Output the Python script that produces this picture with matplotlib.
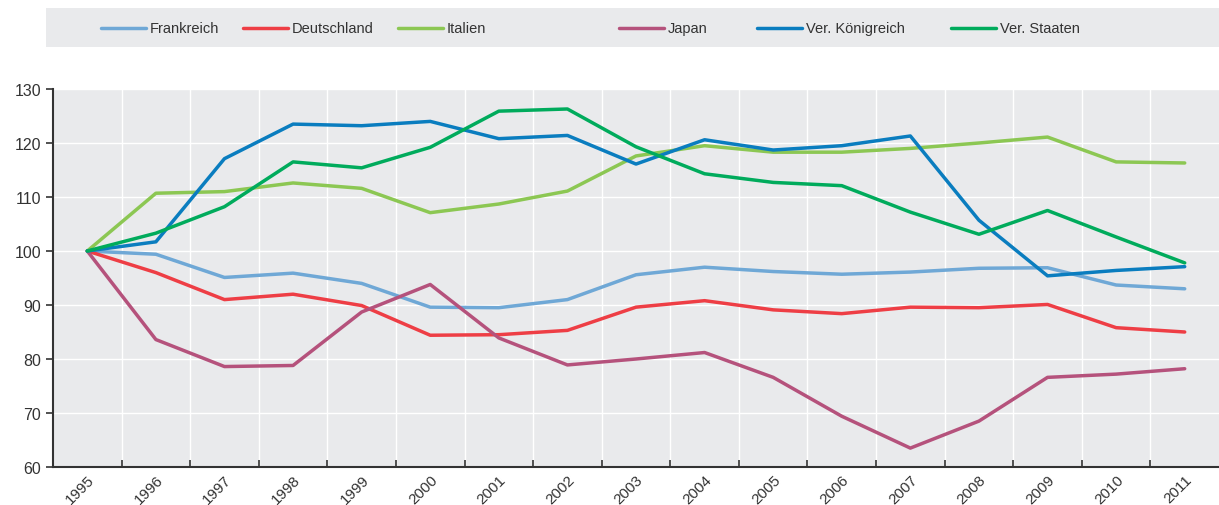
import numpy as np
import matplotlib
matplotlib.use('Agg')
import matplotlib.pyplot as plt
from matplotlib.lines import Line2D
from matplotlib.patches import Rectangle
import matplotlib.transforms as mtransforms

plt.rcParams['font.family'] = ['Liberation Sans', 'DejaVu Sans']

years = [str(y) for y in range(1995, 2012)]
frankreich = [100, 99.4, 95.1, 95.9, 94.0, 89.6, 89.5, 91.0, 95.6, 97.0, 96.2, 95.7, 96.1, 96.8, 96.9, 93.7, 93.0]
deutschland = [100, 96.0, 91.0, 92.0, 89.9, 84.4, 84.5, 85.3, 89.6, 90.8, 89.1, 88.4, 89.6, 89.5, 90.1, 85.8, 85.0]
italien = [100, 110.7, 111.0, 112.6, 111.6, 107.1, 108.7, 111.1, 117.6, 119.5, 118.3, 118.3, 119.0, 120.0, 121.1, 116.5, 116.3]
japan = [100, 83.6, 78.6, 78.8, 88.7, 93.8, 83.9, 78.9, 80.0, 81.2, 76.6, 69.4, 63.5, 68.5, 76.6, 77.2, 78.2]
uk = [100, 101.7, 117.1, 123.5, 123.2, 124.0, 120.8, 121.4, 116.1, 120.6, 118.7, 119.5, 121.3, 105.7, 95.4, 96.4, 97.1]
us = [100, 103.3, 108.2, 116.5, 115.4, 119.2, 125.9, 126.3, 119.3, 114.3, 112.7, 112.1, 107.2, 103.1, 107.5, 102.6, 97.8]

names = ['Frankreich', 'Deutschland', 'Italien', 'Japan', 'Ver. Königreich', 'Ver. Staaten']
series = [frankreich, deutschland, italien, japan, uk, us]
colors = ['#6fa8d6', '#ee3e45', '#8cc753', '#b5527c', '#0a7dbf', '#00ab5c']

fig = plt.figure(figsize=(12.19, 5.06), dpi=100)
ax = fig.add_axes([53 / 1219, 1 - 468 / 506, 1 - 53 / 1219, (468 - 90) / 506])
ax.set_facecolor('#e9eaec')

x = np.arange(len(years))
for vals, c in zip(series, colors):
    ax.plot(x, vals, color=c, linewidth=2.5, solid_joinstyle='round', solid_capstyle='round')

ax.set_xlim(-0.5, len(years) - 0.5)
ax.set_ylim(60, 130)
ax.set_yticks(np.arange(60, 131, 10))
ax.set_xticks(x)
ax.set_xticks(np.arange(0.5, len(years) - 1, 1), minor=True)
ax.set_xticklabels(years, rotation=45, ha='right', rotation_mode='anchor')
offset = mtransforms.ScaledTranslation(0.1, -0.05, fig.dpi_scale_trans)
for lab in ax.get_xticklabels():
    lab.set_transform(lab.get_transform() + offset)

ax.tick_params(axis='x', which='major', length=0, labelsize=11, colors='#333333')
ax.tick_params(axis='x', which='minor', direction='in', length=5, width=1.2, color='#333333')
ax.tick_params(axis='y', direction='out', length=5, width=1.2, labelsize=11.5, colors='#333333')

ax.grid(True, axis='y', color='white', linewidth=1)
ax.grid(True, axis='x', which='minor', color='white', linewidth=1)
ax.set_axisbelow(True)
for s in ['top', 'right']:
    ax.spines[s].set_visible(False)
for s in ['left', 'bottom']:
    ax.spines[s].set_color('#333333')
    ax.spines[s].set_linewidth(1.5)

# legend band
fig.add_artist(Rectangle((46 / 1219, 1 - 48 / 506), 1 - 46 / 1219, 39 / 506,
                         transform=fig.transFigure, facecolor='#e9eaec', edgecolor='none'))
starts = [101, 243, 398, 619, 757, 951]
ly = 1 - 29 / 506
for xs, name, c in zip(starts, names, colors):
    fig.add_artist(Line2D([xs / 1219, (xs + 45) / 1219], [ly, ly], transform=fig.transFigure,
                          color=c, linewidth=2.5, solid_capstyle='round'))
    fig.text((xs + 49) / 1219, ly, name, ha='left', va='center', fontsize=10.5, color='#333333')

fig.savefig('out.png', dpi=100)
